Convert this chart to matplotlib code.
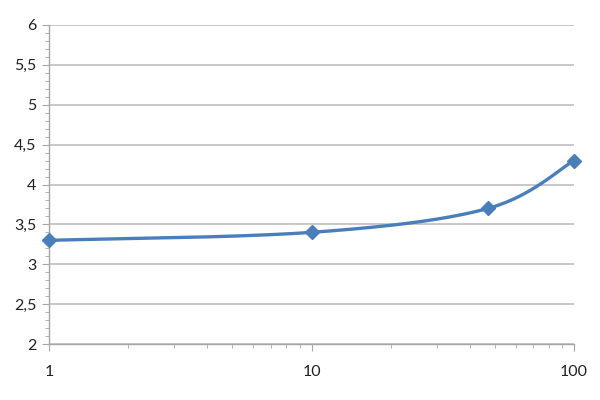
import numpy as np
import matplotlib
matplotlib.use("Agg")
import matplotlib.pyplot as plt
from matplotlib.ticker import FixedLocator, FuncFormatter, LogLocator, NullFormatter

# data
x_vals = [1, 10, 47, 100]
y_vals = [3.3, 3.4, 3.7, 4.3]
y_ticks = [2, 2.5, 3, 3.5, 4, 4.5, 5, 5.5, 6]
x_ticks = [1, 10, 100]

BLUE = "#4A7EBB"
GRID = "#BFBFBF"
plt.rcParams["font.family"] = ["Lato", "DejaVu Sans"]


def smooth(xs, ys, n=60):
    # Excel-like smoothing: Catmull-Rom Bezier in display (log x) space
    px = np.log10(xs); py = np.array(ys, float)
    P = np.column_stack([px, py])
    P = np.vstack([P[0], P, P[-1]])
    out = []
    t = np.linspace(0, 1, n)[:, None]
    for i in range(1, len(P) - 2):
        p0, p1, p2, p3 = P[i - 1], P[i], P[i + 1], P[i + 2]
        c1 = p1 + (p2 - p0) / 6
        c2 = p2 - (p3 - p1) / 6
        seg = ((1 - t) ** 3) * p1 + 3 * ((1 - t) ** 2) * t * c1 + 3 * (1 - t) * t ** 2 * c2 + t ** 3 * p2
        out.append(seg)
    out = np.vstack(out)
    return 10 ** out[:, 0], out[:, 1]


fig = plt.figure(figsize=(6, 4), dpi=100)
ax = fig.add_axes([0.0817, 0.14, 0.875, 0.7975])
ax.set_xscale("log")
ax.set_xlim(1, 100)
ax.set_ylim(2, 6)

sx, sy = smooth(x_vals, y_vals)
ax.plot(sx, sy, color=BLUE, lw=2.4, solid_capstyle="round", zorder=3, clip_on=False)
ax.plot(x_vals, y_vals, ls="none", marker="D", ms=7.5, color=BLUE, zorder=4, clip_on=False)

ax.yaxis.set_major_locator(FixedLocator(y_ticks))
ax.yaxis.set_minor_locator(FixedLocator(np.arange(2, 6.01, 0.1)))
ax.yaxis.set_major_formatter(FuncFormatter(lambda v, _: f"{v:g}".replace(".", ",")))
ax.xaxis.set_major_locator(FixedLocator(x_ticks))
ax.xaxis.set_minor_locator(LogLocator(base=10, subs=range(2, 10)))
ax.xaxis.set_major_formatter(FuncFormatter(lambda v, _: f"{v:g}"))
ax.xaxis.set_minor_formatter(NullFormatter())

ax.grid(axis="y", which="major", color=GRID, lw=1.2)
ax.set_axisbelow(True)
for s in ["top", "right"]:
    ax.spines[s].set_visible(False)
for s in ["left", "bottom"]:
    ax.spines[s].set_color("#A6A6A6")
    ax.spines[s].set_linewidth(1.0)

ax.tick_params(axis="both", which="major", direction="out", length=5, color="#A6A6A6",
               labelsize=11.5, labelcolor="#222222")
ax.tick_params(axis="both", which="minor", direction="out", length=3, color="#A6A6A6")
ax.tick_params(axis="x", which="major", pad=10)
ax.tick_params(axis="y", which="major", pad=4)

fig.savefig("out.png", dpi=100, facecolor="white")
